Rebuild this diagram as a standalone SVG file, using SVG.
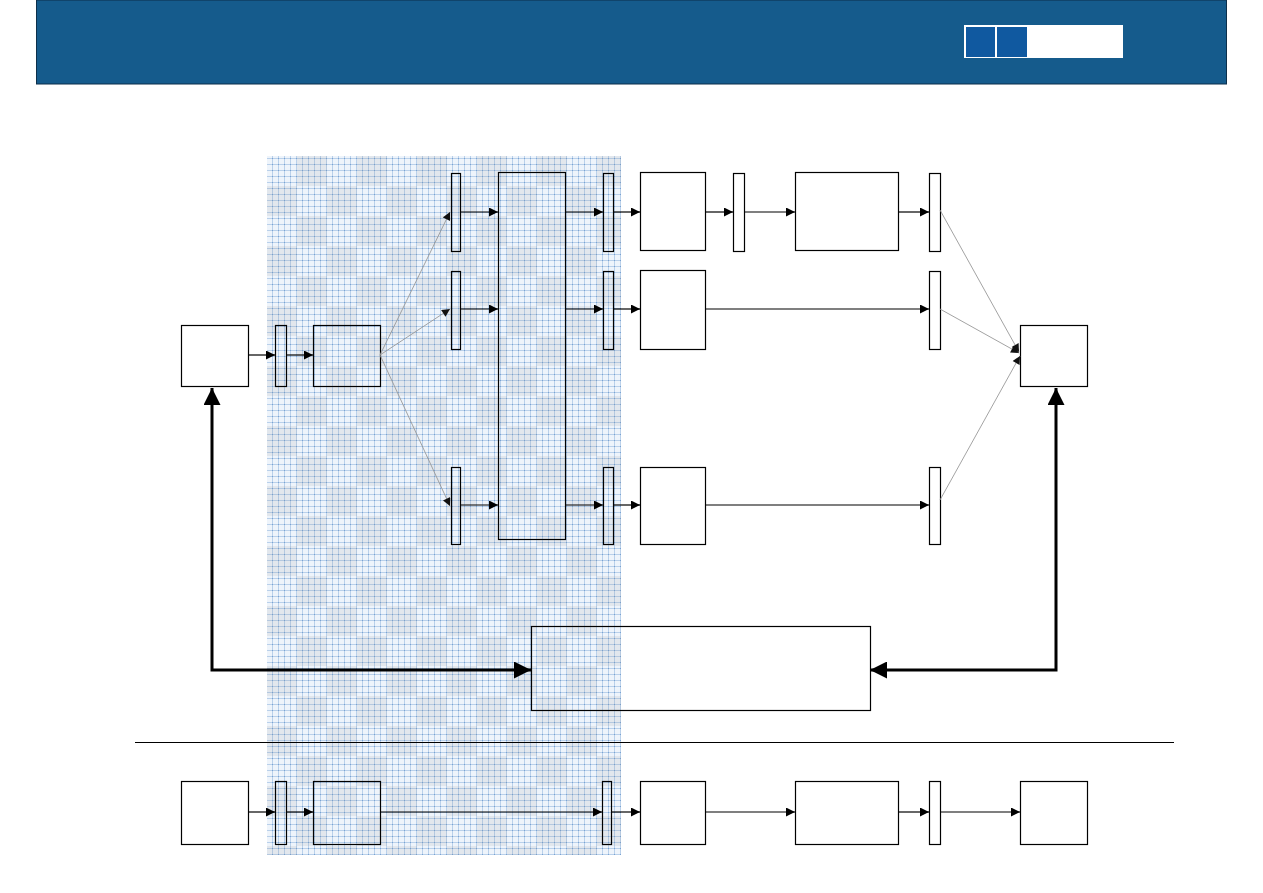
<svg xmlns="http://www.w3.org/2000/svg" width="1263" height="893" viewBox="0 0 1263 893">
<defs>
<pattern id="grid" width="6" height="6" patternUnits="userSpaceOnUse">
<rect width="6" height="6" fill="#eef4fb"/>
<rect x="0" y="2" width="6" height="1" fill="#b9d0ea"/>
<rect x="2" y="0" width="1" height="6" fill="#b9d0ea"/>
<rect x="2" y="2" width="1" height="1" fill="#7aa3d2"/>
</pattern>
<pattern id="check" width="60" height="60" patternUnits="userSpaceOnUse" x="267" y="156">
<rect x="30" y="0" width="30" height="30" fill="#8a8a8a" opacity="0.12"/>
<rect x="0" y="30" width="30" height="30" fill="#8a8a8a" opacity="0.12"/>
</pattern>
<marker id="ah" viewBox="0 0 10 10" refX="10" refY="5" markerWidth="11" markerHeight="9" markerUnits="userSpaceOnUse" orient="auto">
<path d="M0,0 L10,5 L0,10 z" fill="#000"/>
</marker>
<marker id="ahg" viewBox="0 0 10 10" refX="10" refY="5" markerWidth="10" markerHeight="8" markerUnits="userSpaceOnUse" orient="auto">
<path d="M0,0 L10,5 L0,10 z" fill="#111"/>
</marker>
<marker id="ahb" viewBox="0 0 10 10" refX="10" refY="5" markerWidth="20" markerHeight="17" markerUnits="userSpaceOnUse" orient="auto-start-reverse">
<path d="M0,0 L10,5 L0,10 z" fill="#000"/>
</marker>
</defs>
<style>
.n{fill:none;stroke:#000;stroke-width:1.2}
.c{fill:none;stroke:#000;stroke-width:1.2;marker-end:url(#ah)}
.g{fill:none;stroke:#999;stroke-width:0.9;marker-end:url(#ahg)}
.t{fill:none;stroke:#000;stroke-width:3;marker-start:url(#ahb);marker-end:url(#ahb)}
</style>
<rect width="1263" height="893" fill="#fff"/>
<g id="header">
<rect x="36.5" y="0" width="1190" height="84" fill="#155b8c" stroke="#0d2f4a" stroke-width="1"/>
<rect x="964" y="25" width="159" height="33" fill="#fff"/>
<rect x="966" y="27" width="29" height="30" fill="#1059a0"/>
<rect x="997" y="27" width="30" height="30" fill="#1059a0"/>
</g>
<g id="shade">
<rect x="267" y="156" width="354" height="699" fill="url(#grid)"/>
<rect x="267" y="156" width="354" height="699" fill="url(#check)"/>
</g>
<g id="nodes">
<rect id="a" class="n" x="181.5" y="325.5" width="67" height="61"/>
<rect id="bar1" class="n" x="275.5" y="325.5" width="11" height="61"/>
<rect id="b" class="n" x="313.5" y="325.5" width="67" height="61"/>
<rect id="s1" class="n" x="451.5" y="173.5" width="9" height="78"/>
<rect id="s2" class="n" x="451.5" y="271.5" width="9" height="78"/>
<rect id="s3" class="n" x="451.5" y="467.5" width="9" height="77"/>
<rect id="tall" class="n" x="498.5" y="172.5" width="67" height="367"/>
<rect id="t1" class="n" x="603.5" y="173.5" width="10" height="78"/>
<rect id="t2" class="n" x="603.5" y="271.5" width="10" height="78"/>
<rect id="t3" class="n" x="603.5" y="467.5" width="10" height="77"/>
<rect id="p1" class="n" x="640.5" y="172.5" width="65" height="78"/>
<rect id="p2" class="n" x="640.5" y="270.5" width="65" height="79"/>
<rect id="p3" class="n" x="640.5" y="467.5" width="65" height="77"/>
<rect id="q1" class="n" x="733.5" y="173.5" width="11" height="78"/>
<rect id="r1" class="n" x="795.5" y="172.5" width="103" height="78"/>
<rect id="u1" class="n" x="929.5" y="173.5" width="11" height="78"/>
<rect id="u2" class="n" x="929.5" y="271.5" width="11" height="78"/>
<rect id="u3" class="n" x="929.5" y="467.5" width="11" height="77"/>
<rect id="z" class="n" x="1020.5" y="325.5" width="67" height="61"/>
<rect id="ctrl" class="n" x="531.5" y="626.5" width="339" height="84"/>
<rect id="ba" class="n" x="181.5" y="781.5" width="67" height="63"/>
<rect id="bbar1" class="n" x="275.5" y="781.5" width="11" height="63"/>
<rect id="bb" class="n" x="313.5" y="781.5" width="67" height="63"/>
<rect id="bbar2" class="n" x="602.5" y="781.5" width="9" height="63"/>
<rect id="bp" class="n" x="640.5" y="781.5" width="65" height="63"/>
<rect id="br" class="n" x="795.5" y="781.5" width="103" height="63"/>
<rect id="bbar3" class="n" x="929.5" y="781.5" width="11" height="63"/>
<rect id="bz" class="n" x="1020.5" y="781.5" width="67" height="63"/>
</g>
<g id="connectors">
<line x1="135" y1="742.5" x2="1174" y2="742.5" stroke="#000" stroke-width="1.2"/>
<path class="c" d="M248,355 H275"/>
<path class="c" d="M286,355 H313"/>
<path class="g" d="M380,355 L450,212"/>
<path class="g" d="M380,355 L450,309"/>
<path class="g" d="M380,355 L450,506"/>
<path class="c" d="M460,212 H498"/>
<path class="c" d="M460,309 H498"/>
<path class="c" d="M460,505 H498"/>
<path class="c" d="M565,212 H603"/>
<path class="c" d="M565,309 H603"/>
<path class="c" d="M565,505 H603"/>
<path class="c" d="M613,212 H640"/>
<path class="c" d="M613,309 H640"/>
<path class="c" d="M613,505 H640"/>
<path class="c" d="M705,212 H733"/>
<path class="c" d="M744,212 H795"/>
<path class="c" d="M898,212 H929"/>
<path class="c" d="M705,309 H929"/>
<path class="c" d="M705,505 H929"/>
<path class="g" d="M940,210 L1019,352"/>
<path class="g" d="M940,309 L1019,353"/>
<path class="g" d="M940,500 L1020,356"/>
<path class="t" d="M212,388 V670 H531"/>
<path class="t" d="M870,670 H1056 V388"/>
<path class="c" d="M248,812 H275"/>
<path class="c" d="M286,812 H313"/>
<path class="c" d="M380,812 H602"/>
<path class="c" d="M611,812 H640"/>
<path class="c" d="M705,812 H795"/>
<path class="c" d="M898,812 H929"/>
<path class="c" d="M940,812 H1020"/>
</g>
</svg>
